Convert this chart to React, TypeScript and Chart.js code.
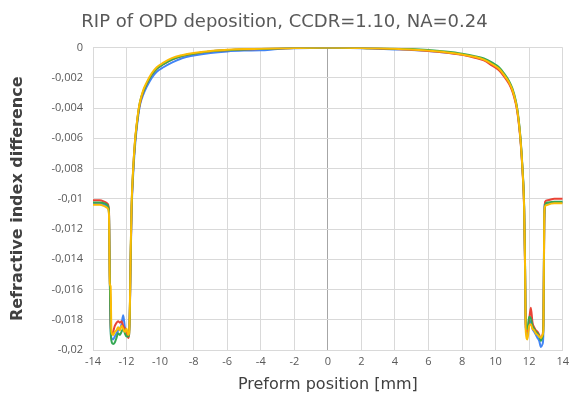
import React, { useEffect, useRef } from "react";
import { Chart, registerables } from "chart.js";

Chart.register(...registerables);

const xs = [
  -14, -13.6, -13.3, -13.15, -13.05, -13.0, -12.95, -12.9, -12.8, -12.7, -12.6, -12.5, -12.4, -12.3, -12.2, -12.1,
  -12.0, -11.9, -11.85, -11.8, -11.75, -11.7, -11.6, -11.5, -11.4, -11.3, -11.2, -11.0, -10.8, -10.5, -10.2, -9.8,
  -9.3, -8.7, -8, -7, -6, -5, -4, -3, -2, -1, 0, 1, 2, 3, 4, 5, 6, 7, 8, 8.7, 9.3, 9.8, 10.2, 10.5, 10.8, 11.0,
  11.2, 11.3, 11.4, 11.5, 11.6, 11.7, 11.75, 11.8, 11.9, 12.0, 12.1, 12.2, 12.3, 12.4, 12.5, 12.6, 12.7, 12.8,
  12.85, 12.9, 12.95, 13.1, 13.5, 14,
];

const yellowSeries = [
  -0.0104, -0.0104, -0.0105, -0.0106, -0.011, -0.0156, -0.0158, -0.0188, -0.019, -0.0188, -0.0187, -0.0185,
  -0.0187, -0.0184, -0.0186, -0.0188, -0.0186, -0.019, -0.0189, -0.017, -0.0132, -0.0104, -0.0079, -0.0062,
  -0.0051, -0.0042, -0.0036, -0.0028, -0.0023, -0.0017, -0.0013, -0.001, -0.0007, -0.0005, -0.00035, -0.00022,
  -0.00015, -0.0001, -0.00008, -0.00005, -0.00003, -0.00001, 0, -0.00001, -0.00003, -0.00005, -0.00008,
  -0.00012, -0.0002, -0.0003, -0.00045, -0.0006, -0.0008, -0.0011, -0.0014, -0.0018, -0.0023, -0.0028, -0.0036,
  -0.0042, -0.0051, -0.0063, -0.008, -0.0106, -0.014, -0.0188, -0.0193, -0.0184, -0.0183, -0.0186, -0.0187,
  -0.0189, -0.019, -0.0191, -0.0192, -0.019, -0.0186, -0.011, -0.0105, -0.0104, -0.0103, -0.0103,
];

const redSeries = [
  -0.0101, -0.0101, -0.0102, -0.0103, -0.0107, -0.015, -0.0182, -0.019, -0.0188, -0.0184, -0.0182, -0.0181,
  -0.0182, -0.0181, -0.0184, -0.0186, -0.0188, -0.0192, -0.019, -0.0172, -0.0135, -0.0106, -0.008, -0.0063,
  -0.0052, -0.0043, -0.0037, -0.0029, -0.0024, -0.0018, -0.0014, -0.0011, -0.0008, -0.00055, -0.0004, -0.00025,
  -0.00017, -0.00012, -0.0001, -0.00006, -0.00003, -0.00001, 0, -0.00001, -0.00003, -0.00006, -0.0001,
  -0.00014, -0.00022, -0.00032, -0.00048, -0.00065, -0.00085, -0.0012, -0.0015, -0.0019, -0.0024, -0.0029,
  -0.0037, -0.0043, -0.0052, -0.0064, -0.0081, -0.0107, -0.0142, -0.0185, -0.0188, -0.018, -0.0172, -0.0182,
  -0.0185, -0.0187, -0.0188, -0.019, -0.0193, -0.019, -0.018, -0.012, -0.0102, -0.0101, -0.01, -0.01,
];

const greenSeries = [
  -0.01025, -0.01025, -0.0103, -0.0104, -0.0108, -0.0152, -0.0186, -0.0194, -0.0196, -0.0195, -0.0192, -0.0189,
  -0.019, -0.0188, -0.0186, -0.0189, -0.0191, -0.0191, -0.019, -0.0171, -0.0133, -0.0105, -0.008, -0.0063,
  -0.0052, -0.0043, -0.0036, -0.0029, -0.0024, -0.0018, -0.0014, -0.0011, -0.0008, -0.00055, -0.0004, -0.00025,
  -0.00017, -0.00012, -0.00009, -0.00006, -0.00003, -0.00001, 0, -0.00001, -0.00003, -0.00005, -0.00008,
  -0.0001, -0.00016, -0.00026, -0.0004, -0.00055, -0.00072, -0.001, -0.0013, -0.0017, -0.0022, -0.0027,
  -0.0035, -0.0041, -0.005, -0.0062, -0.0079, -0.0104, -0.0138, -0.0183, -0.0186, -0.0178, -0.0179, -0.0184,
  -0.0186, -0.0188, -0.0189, -0.0191, -0.0194, -0.0191, -0.0184, -0.0115, -0.0104, -0.01025, -0.0102, -0.0102,
];

const blueSeries = [
  -0.0103, -0.0103, -0.0104, -0.0105, -0.0109, -0.0153, -0.0185, -0.0192, -0.0193, -0.0191, -0.0189, -0.0187,
  -0.0186, -0.0183, -0.0177, -0.0185, -0.0188, -0.019, -0.019, -0.0173, -0.0138, -0.0109, -0.0083, -0.0066,
  -0.0054, -0.0045, -0.0038, -0.0031, -0.0026, -0.002, -0.0016, -0.0013, -0.001, -0.0007, -0.00052, -0.00035,
  -0.00025, -0.0002, -0.00018, -0.0001, -0.00005, -0.00002, 0, -0.00002, -0.00004, -0.00008, -0.00012,
  -0.00016, -0.00022, -0.00032, -0.00046, -0.0006, -0.0008, -0.0011, -0.0014, -0.0018, -0.0023, -0.0028,
  -0.0036, -0.0042, -0.0051, -0.0063, -0.008, -0.0105, -0.014, -0.0186, -0.019, -0.0183, -0.0181, -0.0186,
  -0.0188, -0.019, -0.0192, -0.0194, -0.0198, -0.0196, -0.0188, -0.0108, -0.0103, -0.0103, -0.01025, -0.01025,
];

// first dataset is drawn on top
const seriesNames = ["Yellow", "Green", "Red", "Blue"];
const seriesColors = ["#fbbc04", "#34a853", "#ea4335", "#4285f4"];
const seriesValues = [yellowSeries, greenSeries, redSeries, blueSeries];

const titleText = "RIP of OPD deposition, CCDR=1.10, NA=0.24";
const xTitle = "Preform position [mm]";
const yTitle = "Refractive index difference";

const TICK_FONT = "'Open Sans', 'DejaVu Sans', sans-serif";
const TITLE_FONT = "'DejaVu Sans', 'Open Sans', sans-serif";

export default function App() {
  const ref = useRef<HTMLCanvasElement | null>(null);

  useEffect(() => {
    if (!ref.current) return;
    const chart = new Chart(ref.current, {
      type: "line",
      data: {
        datasets: seriesValues.map((vals, si) => ({
          label: seriesNames[si],
          data: xs.map((x, i) => ({ x, y: vals[i] })),
          borderColor: seriesColors[si],
          backgroundColor: seriesColors[si],
          borderWidth: 2,
          pointRadius: 0,
          cubicInterpolationMode: "monotone" as const,
          fill: false,
        })),
      },
      options: {
        responsive: false,
        animation: false,
        layout: { padding: { left: 0, right: 5, top: 0, bottom: 0 } },
        plugins: {
          legend: { display: false },
          tooltip: { enabled: false },
          title: {
            display: true,
            text: titleText,
            color: "#595959",
            font: { family: TITLE_FONT, size: 18, weight: "normal" },
            padding: { top: 12, bottom: 14 },
          },
        },
        scales: {
          x: {
            type: "linear",
            min: -14,
            max: 14,
            afterFit: (s: any) => {
              s.height = 48;
            },
            ticks: {
              stepSize: 2,
              color: "#595959",
              font: { family: TICK_FONT, size: 11 },
              padding: 5,
            },
            grid: {
              drawTicks: false,
              color: (c: any) => (c.tick && c.tick.value === 0 ? "#a6a6a6" : "#d9d9d9"),
              lineWidth: 1,
            },
            border: { color: "#d9d9d9" },
            title: {
              display: true,
              text: xTitle,
              color: "#404040",
              font: { family: TITLE_FONT, size: 16, weight: "normal" },
              padding: { top: 0, bottom: 4 },
            },
          },
          y: {
            type: "linear",
            min: -0.02,
            max: 0,
            afterFit: (s: any) => {
              s.width = 93;
            },
            ticks: {
              stepSize: 0.002,
              color: "#595959",
              font: { family: TICK_FONT, size: 11 },
              padding: 10,
              callback: (v: any) => String(Number(Number(v).toFixed(3))).replace(".", ","),
            },
            grid: { drawTicks: false, color: "#d9d9d9", lineWidth: 1 },
            border: { color: "#d9d9d9" },
            title: {
              display: true,
              text: yTitle,
              color: "#404040",
              font: { family: TITLE_FONT, size: 16, weight: "bold" },
              padding: { top: 8, bottom: 4 },
            },
          },
        },
      },
    });
    return () => chart.destroy();
  }, []);

  return (
    <div style={{ position: "fixed", left: 0, top: 0, width: 574, height: 398, background: "#fff" }}>
      <canvas ref={ref} width={574} height={398} />
    </div>
  );
}
